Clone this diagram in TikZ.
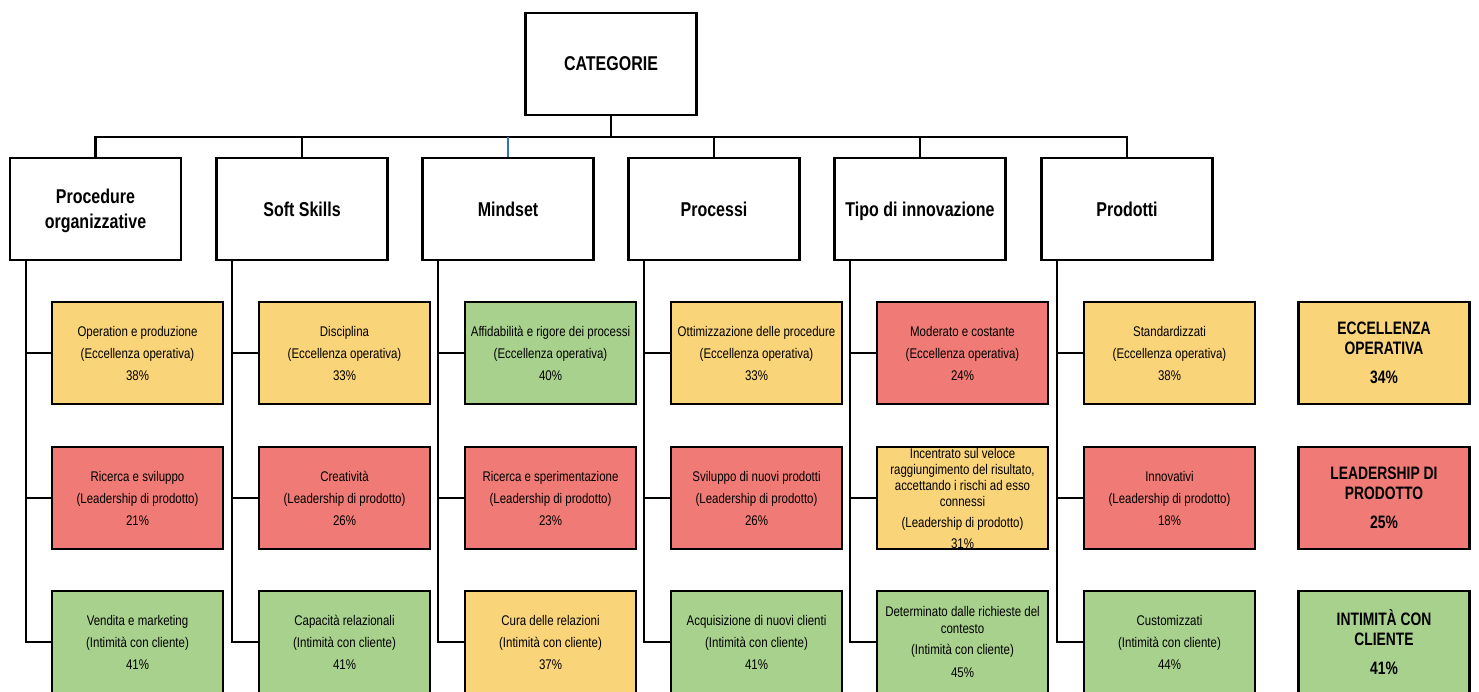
\documentclass[tikz,border=0pt]{standalone}
\usepackage{fontspec}
\setmainfont{Liberation Sans}[FakeStretch=0.82]
\newfontfamily\catfont{Liberation Sans Bold}[FakeStretch=0.8]
\newfontfamily\keyfont{Liberation Sans Bold}[FakeStretch=0.77]
\definecolor{EOcol}{RGB}{250,212,121}
\definecolor{LPcol}{RGB}{240,123,118}
\definecolor{ICcol}{RGB}{169,209,142}
\definecolor{Mcol}{RGB}{46,117,182}
\tikzset{
  box/.style={draw, line width=2.3pt, minimum width=171pt, minimum height=102pt, inner sep=0pt, align=center},
  catbox/.style={box, text depth=0pt, font=\catfont\fontsize{20}{25}\selectfont},
  leafbox/.style={box, font=\fontsize{14}{22}\selectfont},
  keybox/.style={box, font=\keyfont\fontsize{18}{20}\selectfont},
  link/.style={line width=2.1pt},
}

\begin{document}
\begin{tikzpicture}[x=1pt, y=-1pt]
  \useasboundingbox (0,0) rectangle (1479,691);
  \clip (0,0) rectangle (1479,691);

  \node[catbox] (root) at (611,64) {CATEGORIE};

  \node[catbox] (proc) at (95.5,209) {Procedure\\organizzative};
  \node[catbox] (soft) at (302,209) {Soft Skills};
  \node[catbox] (mind) at (508,209) {Mindset};
  \node[catbox] (pross) at (714,209) {Processi};
  \node[catbox] (tipo) at (920,209) {Tipo di innovazione};
  \node[catbox] (prod) at (1127,209) {Prodotti};

  \node[leafbox, fill=EOcol] (proc1) at (137.5,353) {Operation e produzione\\(Eccellenza operativa)\\38\%};
  \node[leafbox, fill=LPcol] (proc2) at (137.5,498) {Ricerca e sviluppo\\(Leadership di prodotto)\\21\%};
  \node[leafbox, fill=ICcol] (proc3) at (137.5,642) {Vendita e marketing\\(Intimità con cliente)\\41\%};

  \node[leafbox, fill=EOcol] (soft1) at (344.5,353) {Disciplina\\(Eccellenza operativa)\\33\%};
  \node[leafbox, fill=LPcol] (soft2) at (344.5,498) {Creatività\\(Leadership di prodotto)\\26\%};
  \node[leafbox, fill=ICcol] (soft3) at (344.5,642) {Capacità relazionali\\(Intimità con cliente)\\41\%};

  \node[leafbox, fill=ICcol] (mind1) at (550.5,353) {Affidabilità e rigore dei processi\\(Eccellenza operativa)\\40\%};
  \node[leafbox, fill=LPcol] (mind2) at (550.5,498) {Ricerca e sperimentazione\\(Leadership di prodotto)\\23\%};
  \node[leafbox, fill=EOcol] (mind3) at (550.5,642) {Cura delle relazioni\\(Intimità con cliente)\\37\%};

  \node[leafbox, fill=EOcol] (pross1) at (756.5,353) {Ottimizzazione delle procedure\\(Eccellenza operativa)\\33\%};
  \node[leafbox, fill=LPcol] (pross2) at (756.5,498) {Sviluppo di nuovi prodotti\\(Leadership di prodotto)\\26\%};
  \node[leafbox, fill=ICcol] (pross3) at (756.5,642) {Acquisizione di nuovi clienti\\(Intimità con cliente)\\41\%};

  \node[leafbox, fill=LPcol] (tipo1) at (962.5,353) {Moderato e costante\\(Eccellenza operativa)\\24\%};
  \node[leafbox, fill=EOcol, font=\fontsize{14}{16}\selectfont] (tipo2) at (962.5,498) {Incentrato sul veloce\\raggiungimento del risultato,\\accettando i rischi ad esso\\connessi\\[5pt](Leadership di prodotto)\\[5pt]31\%};
  \node[leafbox, fill=ICcol, font=\fontsize{14}{17}\selectfont] (tipo3) at (962.5,642) {Determinato dalle richieste del\\contesto\\[4pt](Intimità con cliente)\\[6pt]45\%};

  \node[leafbox, fill=EOcol] (prod1) at (1169.5,353) {Standardizzati\\(Eccellenza operativa)\\38\%};
  \node[leafbox, fill=LPcol] (prod2) at (1169.5,498) {Innovativi\\(Leadership di prodotto)\\18\%};
  \node[leafbox, fill=ICcol] (prod3) at (1169.5,642) {Customizzati\\(Intimità con cliente)\\44\%};

  \node[keybox, fill=EOcol] (eo) at (1384,353) {ECCELLENZA\\OPERATIVA\\[9pt]34\%};
  \node[keybox, fill=LPcol] (lp) at (1384,498) {LEADERSHIP DI\\PRODOTTO\\[9pt]25\%};
  \node[keybox, fill=ICcol] (ic) at (1384,642) {INTIMITÀ CON\\CLIENTE\\[9pt]41\%};

  \coordinate (bus) at (611,137);
  \draw[link] (root.south) -- (bus);
  \draw[link] (proc.north) -- (proc.north |- bus) -- (prod.north |- bus) -- (prod.north);
  \draw[link] (soft.north) -- (soft.north |- bus);
  \draw[link, Mcol] (mind.north) -- (mind.north |- bus);
  \draw[link] (pross.north) -- (pross.north |- bus);
  \draw[link] (tipo.north) -- (tipo.north |- bus);

  \coordinate (procT) at ([xshift=17pt]proc.south west);
  \coordinate (softT) at ([xshift=17pt]soft.south west);
  \coordinate (mindT) at ([xshift=17pt]mind.south west);
  \coordinate (prossT) at ([xshift=17pt]pross.south west);
  \coordinate (tipoT) at ([xshift=17pt]tipo.south west);
  \coordinate (prodT) at ([xshift=17pt]prod.south west);

  \draw[link] (procT) |- (proc3.west);
  \draw[link] (procT |- proc1.west) -- (proc1.west);
  \draw[link] (procT |- proc2.west) -- (proc2.west);
  \draw[link] (softT) |- (soft3.west);
  \draw[link] (softT |- soft1.west) -- (soft1.west);
  \draw[link] (softT |- soft2.west) -- (soft2.west);
  \draw[link] (mindT) |- (mind3.west);
  \draw[link] (mindT |- mind1.west) -- (mind1.west);
  \draw[link] (mindT |- mind2.west) -- (mind2.west);
  \draw[link] (prossT) |- (pross3.west);
  \draw[link] (prossT |- pross1.west) -- (pross1.west);
  \draw[link] (prossT |- pross2.west) -- (pross2.west);
  \draw[link] (tipoT) |- (tipo3.west);
  \draw[link] (tipoT |- tipo1.west) -- (tipo1.west);
  \draw[link] (tipoT |- tipo2.west) -- (tipo2.west);
  \draw[link] (prodT) |- (prod3.west);
  \draw[link] (prodT |- prod1.west) -- (prod1.west);
  \draw[link] (prodT |- prod2.west) -- (prod2.west);
\end{tikzpicture}
\end{document}
